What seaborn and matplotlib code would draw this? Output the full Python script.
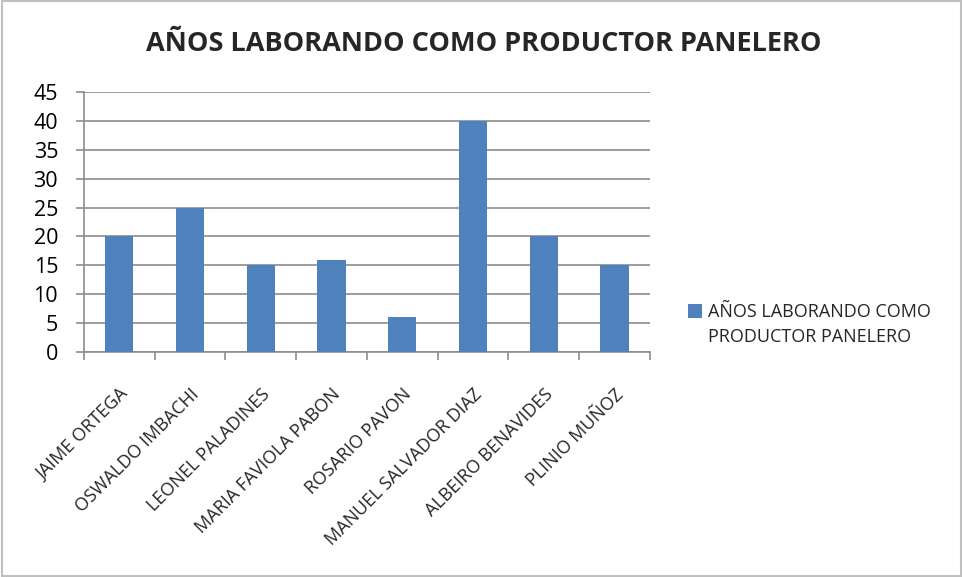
import matplotlib
matplotlib.use("Agg")
import matplotlib.pyplot as plt
import seaborn as sns
import pandas as pd
from matplotlib.patches import Patch, Rectangle

productores = ["JAIME ORTEGA", "OSWALDO IMBACHI", "LEONEL PALADINES", "MARIA FAVIOLA PABON",
               "ROSARIO PAVON", "MANUEL SALVADOR DIAZ", "ALBEIRO BENAVIDES", "PLINIO MUÑOZ"]
anios = [20, 25, 15, 16, 6, 40, 20, 15]
titulo = "AÑOS LABORANDO COMO PRODUCTOR PANELERO"
serie_lineas = ["AÑOS LABORANDO COMO", "PRODUCTOR PANELERO"]
yticks = [0, 5, 10, 15, 20, 25, 30, 35, 40, 45]

sns.set_style("white")
plt.rcParams['font.family'] = ['Open Sans', 'DejaVu Sans']

df = pd.DataFrame({"productor": productores, "anios": anios})

fig = plt.figure(figsize=(9.63, 5.77), dpi=100)
ax = fig.add_axes([0.087, 0.39, 0.588, 0.4506])
blue = "#4F81BD"
sns.barplot(data=df, x="productor", y="anios", color=blue, width=0.4, ax=ax,
            saturation=1, edgecolor="none", zorder=3)

ax.set_ylim(0, 45)
ax.set_xlim(-0.5, len(productores) - 0.5)
ax.set_yticks(yticks)
ax.yaxis.grid(True, color="#8c8c8c", linewidth=1.2, zorder=0)
ax.set_axisbelow(True)
for s in ["top", "right"]:
    ax.spines[s].set_visible(False)
for s in ["left", "bottom"]:
    ax.spines[s].set_color("#8c8c8c")
    ax.spines[s].set_linewidth(1.2)
ax.tick_params(axis="y", which="major", left=True, length=6, width=1.2, color="#8c8c8c",
               labelsize=15.5, pad=12.5, labelcolor="black")
ax.set_xticks(range(len(productores)))
ax.set_xticklabels(productores, rotation=45, ha="right", rotation_mode="anchor",
                   fontsize=13)
ax.tick_params(axis="x", which="major", length=0, pad=24)
ax.set_xticks([i - 0.5 for i in range(len(productores) + 1)], minor=True)
ax.tick_params(axis="x", which="minor", bottom=True, length=6, width=1.2, color="#8c8c8c")
ax.set_xlabel("")
ax.set_ylabel("")

fig.suptitle(titulo, x=0.502, y=0.946, fontsize=19.5, fontweight="bold")

handles = [Patch(facecolor=blue, edgecolor="none"), Patch(facecolor="none", edgecolor="none")]
ax.legend(handles=handles, labels=serie_lineas,
          loc="center left", bbox_to_anchor=(1.055, 0.105), frameon=False,
          fontsize=13, handlelength=0.75, handleheight=0.75, handletextpad=0.35,
          labelspacing=0.38, borderaxespad=0)

fig.patches.append(Rectangle((0.002, 0.002), 0.996, 0.996, transform=fig.transFigure,
                             fill=False, edgecolor="#bfbfbf", linewidth=1.5))

fig.savefig("out.png", dpi=100, facecolor="white")
